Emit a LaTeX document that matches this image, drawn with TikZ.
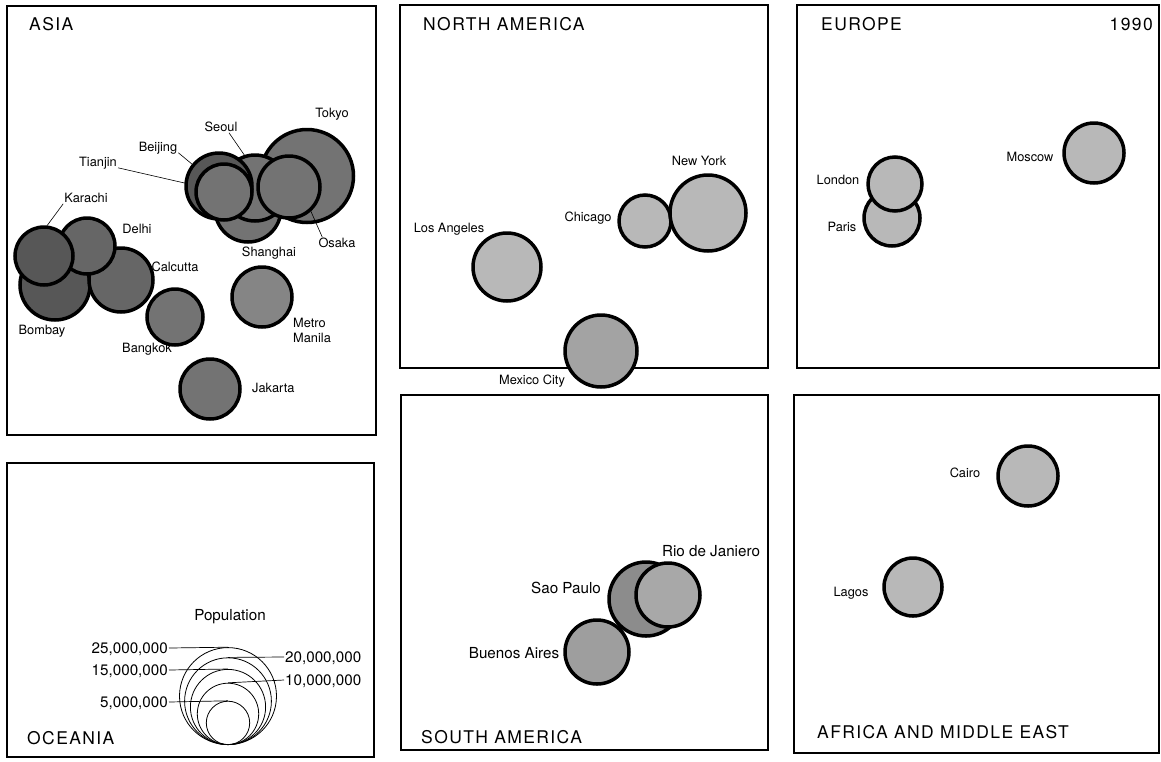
\documentclass[tikz,border=0pt]{standalone}
\usepackage{fontspec}
\setmainfont{TeX Gyre Heros}
\newfontfamily\titlefont[LetterSpace=8]{TeX Gyre Heros}
\begin{document}
\begin{tikzpicture}[x=1pt,y=-1pt,
  panel/.style={draw=black, line width=1.5pt},
  bub/.style={circle, draw=black, line width=3.5pt, inner sep=0pt},
  asiafill/.style={fill=black!55},
  darkfill/.style={fill=black!66},
  midfill/.style={fill=black!45},
  lightfill/.style={fill=black!28},
  lbl/.style={font=\fontsize{12.8}{14}\selectfont, inner sep=1pt, text height=9.2pt, text depth=0pt},
  biglbl/.style={font=\fontsize{15.2}{17}\selectfont, inner sep=1pt, text height=10.9pt, text depth=0pt},
  ttl/.style={font=\titlefont\fontsize{17.5}{20}\selectfont, inner sep=0pt, text height=12.6pt, text depth=0pt},
  leader/.style={draw=black, line width=0.6pt},
  legc/.style={circle, draw=black, line width=0.8pt, inner sep=0pt, anchor=south}]
\useasboundingbox (0,0) rectangle (1161,761);
\fill[white] (0,0) rectangle (1161,761);

% panels
\draw[panel] (7,6) rectangle (376,435);
\draw[panel] (7,463) rectangle (374,757);
\draw[panel] (400,5) rectangle (768,368);
\draw[panel] (401,395) rectangle (768,750);
\draw[panel] (797,5) rectangle (1159,368);
\draw[panel] (794,395) rectangle (1159,753);

% titles
\node[ttl, anchor=west] (tasia) at (29,24) {ASIA};
\node[ttl, anchor=west] (tna) at (423,24) {NORTH AMERICA};
\node[ttl, anchor=west] (teu) at (821,24) {EUROPE};
\node[ttl, anchor=east] (tyear) at (1153,24) {1990};
\node[ttl, anchor=west] (toc) at (27,738) {OCEANIA};
\node[ttl, anchor=west] (tsa) at (421,737) {SOUTH AMERICA};
\node[ttl, anchor=west] (taf) at (817,732) {AFRICA AND MIDDLE EAST};

% ---------- ASIA ----------
\node[bub, asiafill, minimum size=93pt] (tok) at (307,176) {};
\node[bub, asiafill, minimum size=66pt] (sha) at (248,209) {};
\node[bub, asiafill, minimum size=66pt] (seo) at (255,188) {};
\node[bub, darkfill, minimum size=66pt] (bei) at (219,186) {};
\node[bub, asiafill, minimum size=56pt] (tia) at (224,192) {};
\node[bub, asiafill, minimum size=62pt] (osa) at (289,187) {};

\node[bub, darkfill, minimum size=70pt] (bom) at (55,285) {};
\node[bub, fill=black!60, minimum size=64pt] (cal) at (121,280) {};
\node[bub, fill=black!60, minimum size=56pt] (del) at (87,246) {};
\node[bub, darkfill, minimum size=58pt] (kar) at (44,256) {};

\node[bub, asiafill, minimum size=56pt] (bkk) at (175,317) {};
\node[bub, fill=black!48, minimum size=60pt] (man) at (262,297) {};
\node[bub, asiafill, minimum size=60pt] (jak) at (210,389) {};

\node[lbl] (ltok) at (332,113) {Tokyo};
\node[lbl] (lseo) at (221,127) {Seoul};
\node[lbl] (lbei) at (158,147) {Beijing};
\node[lbl] (ltia) at (98,162) {Tianjin};
\node[lbl] (lkar) at (86,198) {Karachi};
\node[lbl] (ldel) at (137,229) {Delhi};
\node[lbl] (lcal) at (175,267) {Calcutta};
\node[lbl] (lsha) at (269,252) {Shanghai};
\node[lbl] (losa) at (337,243) {Osaka};
\node[lbl] (lbom) at (42,330) {Bombay};
\node[lbl] (lbkk) at (147,348) {Bangkok};
\node[lbl, anchor=west] (lman1) at (292,323) {Metro};
\node[lbl, anchor=west] (lman2) at (292,338) {Manila};
\node[lbl, anchor=west] (ljak) at (251,388) {Jakarta};

\draw[leader] ([xshift=8pt]lseo.south) -- (seo.108);
\draw[leader] (lbei.south east) -- (bei.141);
\draw[leader] (ltia.south east) -- (bei.175);
\draw[leader] ([xshift=5pt]losa.north west) -- (osa.-48);
\draw[leader] (lkar.south west) -- (kar.84);

% ---------- NORTH AMERICA ----------
\node[bub, lightfill, minimum size=68pt] (la) at (507,267) {};
\node[bub, lightfill, minimum size=52pt] (chi) at (645,221) {};
\node[bub, lightfill, minimum size=76pt] (ny) at (708,213) {};
\node[bub, fill=black!36, minimum size=72pt] (mex) at (601,351) {};
\node[lbl] (lny) at (699,161) {New York};
\node[lbl] (lchi) at (588,217) {Chicago};
\node[lbl] (lla) at (449,228) {Los Angeles};
\node[lbl] (lmex) at (532,380) {Mexico City};

% ---------- EUROPE ----------
\node[bub, lightfill, minimum size=60pt] (moc) at (1094,153) {};
\node[bub, lightfill, minimum size=56pt] (par) at (892,218) {};
\node[bub, lightfill, minimum size=54pt] (lon) at (895,184) {};
\node[lbl] (llon) at (838,180) {London};
\node[lbl] (lpar) at (842,227) {Paris};
\node[lbl] (lmoc) at (1030,157) {Moscow};

% ---------- SOUTH AMERICA ----------
\node[bub, midfill, minimum size=74pt] (sao) at (646,599) {};
\node[bub, fill=black!34, minimum size=64pt] (rio) at (668,595) {};
\node[bub, fill=black!38, minimum size=64pt] (bue) at (597,652) {};
\node[biglbl] (lrio) at (711,551) {Rio de Janiero};
\node[biglbl] (lsao) at (566,588) {Sao Paulo};
\node[biglbl] (lbue) at (514,653) {Buenos Aires};

% ---------- AFRICA AND MIDDLE EAST ----------
\node[bub, lightfill, minimum size=60pt] (cai) at (1028,476) {};
\node[bub, lightfill, minimum size=58pt] (lag) at (913,587) {};
\node[lbl] (lcai) at (965,473) {Cairo};
\node[lbl] (llag) at (851,592) {Lagos};

% ---------- LEGEND ----------
\node[biglbl] (lpop) at (230,615) {Population};
\node[legc, minimum size=97pt] (l25) at (228,745) {};
\node[legc, minimum size=86.8pt] (l20) at (228,745) {};
\node[legc, minimum size=75.2pt] (l15) at (228,745) {};
\node[legc, minimum size=61.4pt] (l10) at (228,745) {};
\node[legc, minimum size=43.4pt] (l05) at (228,745) {};
\node[biglbl, anchor=east] (t25) at (169,648) {25,000,000};
\node[biglbl, anchor=east] (t15) at (169,670) {15,000,000};
\node[biglbl, anchor=east] (t05) at (169,702) {5,000,000};
\node[biglbl, anchor=west] (t20) at (284,657) {20,000,000};
\node[biglbl, anchor=west] (t10) at (284,680) {10,000,000};
\draw[line width=0.7pt] (t25.east) -- (l25.north);
\draw[line width=0.7pt] (t15.east) -- (l15.north);
\draw[line width=0.7pt] (t05.east) -- (l05.north);
\draw[line width=0.7pt] (l20.north) -- (t20.west);
\draw[line width=0.7pt] (l10.north) -- (t10.west);
\end{tikzpicture}
\end{document}
